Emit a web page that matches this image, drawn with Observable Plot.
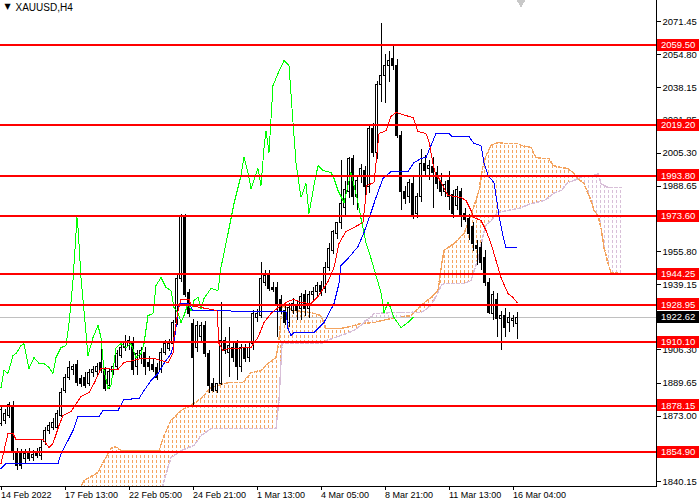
<!DOCTYPE html>
<html><head><meta charset="utf-8">
<script src="https://cdn.jsdelivr.net/npm/d3@7"></script>
<script src="https://cdn.jsdelivr.net/npm/@observablehq/plot@0.6"></script>
<style>
html,body{margin:0;padding:0;background:#fff;}
#chart{width:700px;height:500px;}
</style></head><body><div id="chart"></div>
<script>
// ---------- DATA ----------
const symbolTitle = "XAUUSD,H4";
const opens = [1869.3,1870.8,1873.3,1877.4,1854.7,1854.2,1851.7,1854.2,1852.2,1854.7,
1853.2,1859.8,1865.8,1867.3,1867.3,1873.3,1885.9,1892.4,1896.0,1898.5,
1891.9,1892.4,1889.4,1894.5,1895.0,1900.0,1896.0,1888.4,1895.0,1897.5,
1903.5,1907.5,1908.5,1909.5,1897.5,1902.0,1905.0,1900.0,1898.5,1897.0,
1896.0,1905.0,1907.0,1909.5,1920.1,1942.2,1973.9,1934.7,1919.6,1907.5,
1912.6,1918.6,1904.5,1889.4,1885.9,1889.4,1911.0,1905.0,1907.5,1909.5,
1897.5,1907.0,1902.5,1909.5,1922.6,1923.6,1940.2,1943.7,1937.7,1937.7,
1931.2,1926.1,1920.1,1926.1,1928.6,1927.1,1933.7,1927.1,1933.7,1935.2,
1938.7,1937.2,1947.3,1956.3,1964.8,1969.9,1977.9,1985.5,2002.1,1983.0,
1994.0,1996.5,1988.0,2017.6,2005.1,2039.3,2044.3,2049.3,2052.8,2049.3,
2014.1,1985.5,1983.0,1990.0,1974.9,1983.0,2000.0,1997.5,1998.5,1995.5,
1991.5,1985.5,1991.5,1984.0,1978.9,1985.5,1974.9,1972.4,1967.9,1958.8,
1957.8,1952.3,1940.2,1924.6,1931.2,1922.1,1923.6,1920.1,1921.1,1919.6];
const highs = [1878.4,1876.5,1880.0,1880.4,1856.7,1856.2,1856.2,1856.7,1855.7,1856.7,
1860.8,1867.3,1869.8,1871.8,1875.9,1886.9,1894.0,1900.5,1899.0,1901.0,
1893.5,1895.0,1896.5,1898.0,1899.5,1906.5,1897.5,1896.5,1899.5,1906.0,
1909.0,1913.6,1913.0,1912.6,1906.0,1907.5,1907.5,1903.0,1901.5,1899.5,
1907.0,1911.0,1911.5,1921.1,1943.7,1974.4,1974.4,1936.7,1921.6,1920.6,
1920.1,1920.6,1906.0,1891.9,1889.4,1930.2,1912.6,1917.6,1909.5,1911.0,
1909.0,1909.0,1909.5,1926.1,1926.6,1950.3,1946.2,1946.2,1940.2,1940.2,
1933.7,1928.1,1929.6,1932.2,1931.2,1934.7,1936.2,1935.7,1937.7,1940.2,
1940.7,1950.3,1959.8,1966.4,1970.4,2001.6,1991.0,2003.1,2004.1,1993.0,
1999.5,1998.5,2018.6,2020.1,2041.3,2070.4,2054.8,2056.4,2058.9,2052.3,
2016.1,1988.5,1992.0,1993.0,1985.0,2007.1,2004.1,2001.6,2003.1,1998.5,
1995.0,1991.0,1996.0,1986.5,1988.5,1987.5,1977.4,1974.4,1970.4,1961.3,
1960.3,1956.3,1942.2,1935.7,1934.7,1925.6,1927.1,1925.1,1923.6,1925.1];
const lows = [1867.8,1868.8,1871.8,1850.7,1845.7,1846.2,1849.2,1850.2,1850.2,1851.7,
1850.7,1858.3,1863.8,1865.8,1865.8,1872.3,1884.4,1890.9,1893.5,1887.9,
1887.4,1886.9,1887.9,1892.4,1893.5,1894.5,1885.4,1886.4,1893.5,1896.0,
1902.0,1905.5,1906.0,1893.5,1893.5,1899.0,1893.5,1895.5,1895.0,1890.9,
1894.5,1903.5,1905.5,1907.5,1918.6,1940.2,1932.7,1922.6,1878.4,1905.0,
1910.0,1902.5,1884.4,1884.9,1884.4,1888.4,1904.0,1892.4,1900.0,1890.9,
1895.0,1900.0,1900.0,1906.0,1920.1,1922.1,1938.2,1935.7,1935.2,1912.6,
1924.1,1918.6,1917.6,1924.1,1921.1,1921.1,1923.1,1922.1,1931.2,1932.7,
1933.2,1934.7,1945.7,1954.3,1961.8,1966.9,1972.9,1982.4,1978.9,1976.4,
1990.0,1984.0,1985.0,2003.1,2002.1,2030.7,2030.2,2040.8,2046.8,2012.6,
1976.4,1979.4,1979.9,1971.9,1972.4,1980.4,1993.5,1991.5,1977.4,1987.0,
1983.5,1983.0,1976.4,1972.4,1976.4,1967.9,1970.4,1961.3,1955.8,1948.8,
1946.2,1938.2,1924.1,1921.1,1912.6,1906.0,1912.6,1915.1,1917.6,1911.5];
const closes = [1875.9,1874.3,1878.4,1854.7,1848.2,1848.2,1854.2,1851.7,1853.7,1853.2,
1857.2,1865.8,1868.3,1869.8,1874.3,1884.9,1892.4,1897.0,1897.5,1889.9,
1889.4,1888.4,1894.5,1896.0,1897.5,1896.0,1886.9,1895.0,1897.5,1904.5,
1907.5,1910.0,1911.0,1896.0,1904.5,1906.0,1897.5,1897.5,1896.0,1892.4,
1905.0,1909.5,1909.5,1920.1,1942.2,1973.9,1933.7,1924.6,1902.5,1918.6,
1918.6,1904.5,1888.4,1885.9,1889.4,1911.0,1906.0,1908.5,1902.5,1897.5,
1907.5,1902.0,1907.5,1924.6,1924.6,1942.2,1943.7,1937.2,1936.7,1928.6,
1926.1,1920.1,1927.6,1929.6,1926.1,1932.7,1927.1,1933.7,1935.2,1938.7,
1935.2,1947.3,1957.3,1965.4,1969.9,1979.9,1986.5,2002.1,1983.0,1991.5,
1997.5,1988.0,2017.6,2005.1,2039.3,2044.3,2049.3,2051.8,2049.3,2014.1,
1985.5,1982.4,1990.5,1973.9,1983.0,2000.0,1996.5,1999.0,1995.5,1990.0,
1985.5,1989.0,1983.0,1974.9,1986.5,1973.9,1971.4,1964.8,1959.8,1957.3,
1949.8,1940.2,1925.1,1933.7,1922.1,1923.6,1917.1,1922.6,1922.1,1922.6];

// Ichimoku lines, read as [bar, price]
const tenkan = [[0,1849.2],[1.75,1864.3],[3,1864.3],[3.75,1861.3],[10.5,1861.3],[12,1857.2],[13,1859.3],[14.5,1868.3],[15.5,1873.3],[17.5,1875.4],[20,1882.9],[22,1884.9],[23.25,1889.4],[25,1897.0],[29.25,1896.5],[30.75,1900.0],[33,1901.0],[35,1902.0],[38.25,1902.0],[40,1901.0],[41.75,1900.0],[43,1904.5],[43.25,1912.6],[44.25,1926.1],[45,1931.7],[47,1931.7],[47.5,1928.6],[54,1926.1],[54.5,1909.5],[55.5,1906.0],[56.75,1907.0],[62.5,1907.5],[64.25,1912.6],[65.75,1920.1],[67.5,1924.6],[69.25,1927.6],[71.75,1930.7],[73.25,1931.7],[75,1930.2],[77.5,1929.6],[79.25,1933.2],[81.75,1940.7],[83.25,1947.8],[84.5,1959.8],[86.25,1965.9],[88.25,1967.9],[90.5,1970.4],[91.5,1989.0],[93.25,1990.5],[94.5,2015.1],[96.25,2016.6],[97.5,2023.7],[98.75,2025.7],[102,2023.7],[103,2023.2],[104.25,2016.1],[106.25,2015.1],[107,2011.1],[108,2000.0],[108.75,1994.0],[109.5,1992.5],[111.75,1984.0],[115,1983.0],[116.25,1981.4],[117.5,1976.4],[118.25,1972.9],[120,1971.4],[121.25,1966.4],[122.5,1959.8],[123.75,1951.3],[125,1942.7],[126.75,1934.7],[128,1932.7],[129,1930.2]];
const kijun = [[0,1846.7],[1.25,1849.2],[14.25,1849.2],[15,1854.2],[16.75,1860.8],[18,1865.8],[19.25,1872.8],[24.5,1872.8],[25.5,1875.9],[29.25,1875.9],[30.75,1881.4],[34.5,1881.9],[35.75,1885.9],[37.5,1890.9],[39.25,1894.5],[40.75,1899.5],[42.5,1904.5],[43.25,1909.5],[43.75,1917.6],[44.5,1929.6],[47,1929.6],[48,1926.1],[71.25,1925.6],[71.75,1917.1],[72.5,1913.6],[73.25,1915.1],[78.25,1915.1],[79.25,1917.1],[80.75,1920.1],[83.25,1929.6],[84.5,1939.7],[85,1948.8],[86.75,1952.3],[89.25,1958.3],[90.75,1965.4],[92.5,1975.4],[93.75,1983.0],[95.5,1992.5],[97.5,1996.0],[101.75,1996.0],[103.25,2000.5],[105,2002.6],[106.25,2003.1],[107.5,2009.1],[108.75,2015.1],[112,2015.1],[112.75,2013.6],[117,2013.6],[118.25,2010.1],[120,2009.1],[120.75,2000.5],[121.75,1994.0],[123.25,1990.5],[124.5,1973.9],[125.5,1963.8],[126.25,1957.8],[129,1957.8]];
const chikou = [[0,1887.4],[0.75,1896.0],[1.75,1894.5],[3,1903.5],[3.75,1904.5],[5,1908.5],[5.75,1909.5],[7,1897.0],[8.25,1902.5],[9.5,1899.5],[10.75,1899.5],[12,1897.5],[13,1894.5],[13.75,1902.5],[15,1907.5],[16.25,1908.5],[17,1919.6],[18,1941.2],[19,1972.9],[19.25,1967.9],[20,1942.7],[20.75,1926.1],[21.75,1903.5],[23,1912.6],[24.25,1918.6],[25,1912.6],[25.75,1896.0],[26.75,1886.9],[27.5,1888.4],[28.75,1907.5],[30,1909.5],[31.25,1907.5],[32.5,1909.5],[33.75,1902.5],[35,1904.5],[35.75,1909.5],[36.75,1923.6],[38,1924.6],[38.75,1938.7],[40,1942.7],[41.25,1937.7],[42.5,1936.2],[43.25,1927.6],[44.25,1925.1],[45,1920.1],[45.75,1923.6],[46.75,1929.6],[47.5,1926.1],[48.25,1931.2],[49.25,1932.7],[50,1927.1],[50.75,1932.2],[52.5,1937.2],[54.25,1936.2],[55,1947.8],[56.75,1964.8],[58.25,1979.9],[60,1994.0],[60.75,2003.1],[61.75,1995.5],[62.5,1987.5],[64.25,1997.5],[65,1989.0],[65.75,2007.6],[66.25,2016.6],[67,2005.6],[68,2039.3],[69.25,2045.3],[70.75,2051.8],[72,2049.3],[73,2020.7],[73.75,2000.5],[75,1983.0],[76.25,1990.0],[77,1974.9],[78.25,1989.0],[79.25,1999.0],[80.5,1996.5],[82.5,1995.5],[83.25,1992.5],[84.25,1986.5],[85.75,1980.4],[87.5,1995.5],[89.25,1980.4],[90,1972.4],[91.25,1960.3],[92.5,1952.3],[93.75,1943.7],[95,1935.2],[95.75,1925.1],[96.75,1930.2],[97.5,1927.1],[98.25,1922.6],[100,1917.6],[101.75,1920.1],[103,1922.6]];

// Kumo (shifted spans), read at common bars
const cloudBars = [18,19.5,20.75,24.25,25.75,27.5,28.5,30,39.5,40.75,42.5,45,48.25,50,52.5,56.75,60.5,62.5,65,66.75,68.75,69.5,70.25,73.25,77.5,80,81.25,85,88.25,90,93.25,97.5,102.5,105,107.5,109.25,110,110.75,113.25,115.75,117.5,119.5,120.5,121.25,122.5,124.25,126.75,129.25,130,132.5,133.75,135.75,137,138,140,141.75,143.25,144.25,145.75,147.5,148.25,149.25,150,150.75,151.75,152.5,155];
const spanA = [1830.6,1835.6,1840.6,1844.7,1850.7,1856.7,1857.8,1855.7,1855.7,1863.3,1870.8,1875.9,1879.4,1881.9,1887.4,1889.9,1889.9,1894.9,1896.0,1899.5,1902.5,1911.0,1928.6,1926.1,1925.1,1923.6,1917.1,1917.1,1918.6,1919.6,1920.1,1922.1,1923.6,1928.6,1932.7,1936.2,1947.3,1956.3,1959.8,1964.8,1973.9,1986.5,1999.0,2004.1,2009.1,2010.6,2010.1,2010.1,2009.1,2008.1,2003.1,2002.6,2002.6,1999.0,1998.0,1997.5,1995.0,1992.5,1990.0,1981.4,1976.4,1973.9,1967.9,1957.8,1949.8,1945.2,1944.7];
const spanB = [1825.6,1825.6,1825.6,1825.6,1825.6,1825.6,1825.6,1825.6,1828.1,1840.6,1852.2,1855.7,1858.3,1863.3,1866.8,1866.8,1866.8,1866.8,1866.8,1866.8,1866.8,1880.9,1909.5,1909.5,1909.5,1909.5,1911.0,1913.6,1916.1,1918.6,1924.6,1925.1,1925.1,1925.1,1928.6,1935.2,1938.7,1939.7,1939.7,1939.7,1941.2,1953.8,1963.8,1968.9,1971.4,1975.4,1976.4,1977.4,1977.9,1979.9,1980.4,1981.4,1983.0,1985.0,1986.5,1990.5,1991.5,1992.5,1993.5,1994.0,1994.0,1995.0,1990.0,1989.0,1988.0,1988.0,1988.0];

const levels = [2059.50, 2019.20, 1993.80, 1973.60, 1944.25, 1928.95, 1910.10, 1878.15, 1854.90];
const lastPrice = 1922.62;
const shiftBar = 130;
const yTicks = [2071.45, 2054.80, 2038.15, 2021.85, 2005.30, 1988.65, 1972.15, 1955.80, 1939.15, 1906.30, 1889.65, 1873.00, 1840.15];
const xTickBars = [0, 16, 32, 48, 64, 80, 96, 112, 128];
const xTickLabels = ["14 Feb 2022", "17 Feb 13:00", "22 Feb 05:00", "24 Feb 21:00", "1 Mar 13:00", "4 Mar 05:00", "8 Mar 21:00", "11 Mar 13:00", "16 Mar 04:00"];

// ---------- TABLES ----------
const candles = opens.map((o, i) => ({i, open: o, high: highs[i], low: lows[i], close: closes[i]}));
const cloud = cloudBars.map((b, k) => ({i: b, A: spanA[k], B: spanB[k]}));

const FONT = "'Liberation Sans', Arial, sans-serif";

const chart = Plot.plot({
  width: 700, height: 500,
  marginTop: 0, marginRight: 44, marginBottom: 14, marginLeft: 0,
  style: {fontFamily: FONT, fontSize: "9px", background: "white", color: "black", overflow: "visible"},
  x: {domain: [-0.125, 163.875], axis: null, label: null},
  y: {domain: [1837.66, 2082.01], axis: null, label: null},
  marks: [
    // kumo fills
    Plot.areaY(cloud, {x: "i", y1: "B", y2: d => Math.max(d.A, d.B), fill: "url(#kumoUp)", clip: true}),
    Plot.areaY(cloud, {x: "i", y1: "A", y2: d => Math.max(d.A, d.B), fill: "url(#kumoDn)", clip: true}),
    Plot.line(cloud, {x: "i", y: "A", stroke: "#f4a460", strokeDasharray: "3,2", clip: true}),
    Plot.line(cloud, {x: "i", y: "B", stroke: "#d8bfd8", strokeDasharray: "3,2", clip: true}),
    // current price line
    Plot.ruleY([lastPrice], {stroke: "#c0c0c0", strokeWidth: 1}),
    // candles
    Plot.ruleX(candles, {x: "i", y1: "low", y2: "high", stroke: "black", clip: true}),
    Plot.rect(candles, {x1: d => d.i - 0.25, x2: d => d.i + 0.25, y1: "open", y2: "close",
      fill: d => d.close >= d.open ? "white" : "black", stroke: "black", strokeWidth: 1, clip: true}),
    // ichimoku lines
    Plot.line(chikou, {x: d => d[0], y: d => d[1], stroke: "#00ff00", strokeWidth: 1, clip: true}),
    Plot.line(kijun, {x: d => d[0], y: d => d[1], stroke: "#0000ff", strokeWidth: 1, clip: true}),
    Plot.line(tenkan, {x: d => d[0], y: d => d[1], stroke: "#ff0000", strokeWidth: 1, clip: true}),
    // horizontal levels
    Plot.ruleY(levels, {stroke: "#ff0000", strokeWidth: 2}),
    // axes
    Plot.frame({anchor: "right", stroke: "black"}),
    Plot.frame({anchor: "bottom", stroke: "black"}),
    Plot.axisY(yTicks, {anchor: "right", label: null, tickSize: 4, tickPadding: 2, tickFormat: d => d.toFixed(2), fontSize: 9.5, fill: "black"}),
    Plot.axisX(xTickBars, {anchor: "bottom", label: null, tickSize: 4, tickPadding: 1, tickFormat: d => xTickLabels[xTickBars.indexOf(d)], textAnchor: "start", dx: 0, fontSize: 9, fill: "black"}),
    // chart shift marker
    Plot.dot([shiftBar], {x: d => d, frameAnchor: "top", symbol: "triangle", rotate: 180, r: 4, dy: 1, fill: "#c8c8c8", stroke: "none"}),
    // title
    Plot.text(["▼"], {text: d => d, frameAnchor: "top-left", dx: 4, dy: 3, textAnchor: "start", lineAnchor: "top", fontSize: 8, fill: "black", fontFamily: "DejaVu Sans"}),
    Plot.text([symbolTitle], {text: d => d, frameAnchor: "top-left", dx: 15, dy: 3, textAnchor: "start", lineAnchor: "top", fontSize: 10, fill: "black"})
  ]
});

document.getElementById("chart").appendChild(chart);

// patterns for the kumo (dotted histogram look)
const svg = d3.select(chart);
const defs = svg.insert("defs", ":first-child");
function makePattern(id, color) {
  const p = defs.append("pattern").attr("id", id).attr("patternUnits", "userSpaceOnUse")
    .attr("width", 4).attr("height", 5);
  p.append("rect").attr("x", 0).attr("y", 0).attr("width", 1).attr("height", 3).attr("fill", color);
}
makePattern("kumoUp", "#f4a460");
makePattern("kumoDn", "#d8bfd8");

// price labels on the axis, placed with the plot's own y scale
const yScale = chart.scale("y");
const labels = svg.append("g").attr("font-family", FONT).attr("font-size", 9.5).attr("text-anchor", "start");
function priceLabel(v, color) {
  const yy = yScale.apply(v);
  labels.append("rect").attr("x", 657).attr("y", Math.round(yy) - 6).attr("width", 42).attr("height", 12).attr("fill", color);
  labels.append("text").attr("x", 661).attr("y", yy).attr("dy", "0.34em").attr("text-anchor", "start").attr("fill", "white").text(v.toFixed(2));
}
levels.forEach(v => priceLabel(v, "#ff0000"));
priceLabel(lastPrice, "#000000");
svg.style("shape-rendering", "crispEdges");
</script>
</body></html>
